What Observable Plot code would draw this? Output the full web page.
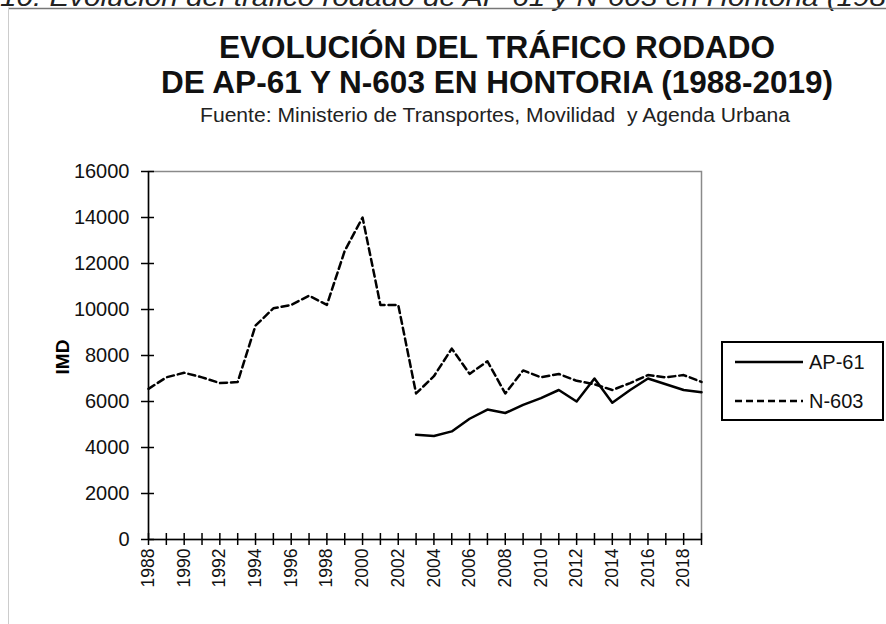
<!DOCTYPE html>
<html><head><meta charset="utf-8">
<script src="https://cdn.jsdelivr.net/npm/d3@7"></script>
<script src="https://cdn.jsdelivr.net/npm/@observablehq/plot@0.6"></script>
<style>
body{margin:0;background:#fff;}
#wrap{position:relative;width:886px;height:624px;overflow:hidden;font-family:Arial,"Liberation Sans",sans-serif;background:#fff;}
#deco{position:absolute;left:0;top:0;}
#chart{position:absolute;left:0;top:140px;}
</style></head><body>
<div id="wrap"><svg id="deco" width="886" height="624"></svg><div id="chart"></div></div>
<script>
const captionText = "10. Evolución del tráfico rodado de AP-61 y N-603 en Hontoria (1988-2019)";
const titleLines = ["EVOLUCIÓN DEL TRÁFICO RODADO", "DE AP-61 Y N-603 EN HONTORIA (1988-2019)"];
const sourceText = "Fuente: Ministerio de Transportes, Movilidad  y Agenda Urbana";
const yAxisLabel = "IMD";
const seriesNames = ["AP-61", "N-603"];
const years = [1988,1989,1990,1991,1992,1993,1994,1995,1996,1997,1998,1999,2000,2001,2002,2003,2004,2005,2006,2007,2008,2009,2010,2011,2012,2013,2014,2015,2016,2017,2018,2019];
const ap61Years = [2003,2004,2005,2006,2007,2008,2009,2010,2011,2012,2013,2014,2015,2016,2017,2018,2019];
const ap61 = [4550,4500,4700,5250,5650,5500,5850,6150,6500,6000,7000,5950,6500,7000,6750,6500,6400];
const n603 = [6550,7050,7250,7050,6800,6850,9300,10050,10200,10600,10200,12550,14000,10200,10200,6350,7100,8300,7200,7750,6350,7350,7050,7200,6900,6750,6500,6800,7150,7050,7150,6850];
const yTicks = [0,2000,4000,6000,8000,10000,12000,14000,16000];
const xLabelYears = [1988,1990,1992,1994,1996,1998,2000,2002,2004,2006,2008,2010,2012,2014,2016,2018];
const dashes = {"AP-61": null, "N-603": "7,4"};

const font = 'Arial, "Liberation Sans", sans-serif';
const rowsN = years.map((year, i) => ({year, value: n603[i]}));
const rowsA = ap61Years.map((year, i) => ({year, value: ap61[i]}));

const chart = Plot.plot({
  width: 886, height: 484,
  marginLeft: 148, marginRight: 185, marginTop: 31, marginBottom: 85,
  x: {type: "linear", domain: [years[0], years[years.length - 1]]},
  y: {domain: [yTicks[0], yTicks[yTicks.length - 1]]},
  style: {fontFamily: font, fontSize: "20px", color: "#000", background: "transparent", overflow: "visible"},
  marks: [
    Plot.frame({stroke: "#8a8a8a", strokeWidth: 1.5}),
    Plot.axisY({ticks: yTicks, tickSize: 13, dx: 6, fill: "none", label: null, strokeWidth: 1.5}),
    Plot.axisY({ticks: yTicks, tickSize: 0, tickPadding: 19, stroke: "none", label: null, fontSize: 20, fill: "#111", tickFormat: d => String(d)}),
    Plot.axisX({ticks: years, tickSize: 12, dy: -6, fill: "none", label: null, strokeWidth: 1.5}),
    Plot.axisX({ticks: xLabelYears, tickSize: 0, tickPadding: 9, tickRotate: -90, stroke: "none", label: null, fontSize: 17.5, fill: "#111", tickFormat: d => String(d)}),
    Plot.ruleX([years[0]], {stroke: "#000", strokeWidth: 1.5}),
    Plot.ruleY([yTicks[0]], {stroke: "#000", strokeWidth: 1.5}),
    Plot.line(rowsN, {x: "year", y: "value", stroke: "#000", strokeWidth: 2.5, strokeDasharray: dashes["N-603"]}),
    Plot.line(rowsA, {x: "year", y: "value", stroke: "#000", strokeWidth: 2.5})
  ]
});
document.getElementById("chart").appendChild(chart);

// Decorations: clipped caption, page frame, titles, axis title, legend
const deco = d3.select("#deco").attr("font-family", font);
deco.append("text").attr("x", 0).attr("y", 6).attr("font-size", 26).attr("font-style", "italic")
  .attr("fill", "#222").attr("textLength", 988).attr("lengthAdjust", "spacingAndGlyphs").text(captionText);
deco.append("line").attr("x1", 8).attr("x2", 886).attr("y1", 8.5).attr("y2", 8.5).attr("stroke", "#777").attr("stroke-width", 1.5);
deco.append("line").attr("x1", 8.5).attr("x2", 8.5).attr("y1", 8).attr("y2", 624).attr("stroke", "#ccc").attr("stroke-width", 1);

const titleY = [58, 92.5], titleLen = [556, 672];
titleLines.forEach((t, i) => {
  deco.append("text").attr("x", 497).attr("y", titleY[i]).attr("text-anchor", "middle")
    .attr("font-size", 30.5).attr("font-weight", "bold").attr("fill", "#111")
    .attr("textLength", titleLen[i]).attr("lengthAdjust", "spacingAndGlyphs").text(t);
});
deco.append("text").attr("x", 495).attr("y", 122).attr("text-anchor", "middle")
  .attr("font-size", 20).attr("fill", "#222").style("white-space", "pre")
  .attr("textLength", 590).attr("lengthAdjust", "spacingAndGlyphs").text(sourceText);

// y axis title
deco.append("text").attr("transform", "translate(62,357) rotate(-90)").attr("text-anchor", "middle")
  .attr("dy", "0.35em").attr("font-size", 19).attr("font-weight", "bold").attr("fill", "#000").text(yAxisLabel);

// Legend
const lg = deco.append("g");
lg.append("rect").attr("x", 722).attr("y", 342).attr("width", 161).attr("height", 78)
  .attr("fill", "#fff").attr("stroke", "#000").attr("stroke-width", 2);
seriesNames.forEach((name, i) => {
  const y = 362 + i * 39;
  lg.append("line").attr("x1", 735).attr("x2", 803).attr("y1", y).attr("y2", y)
    .attr("stroke", "#000").attr("stroke-width", 2.5).attr("stroke-dasharray", dashes[name]);
  lg.append("text").attr("x", 809).attr("y", y).attr("dy", "0.35em").attr("font-size", 20).attr("fill", "#111").text(name);
});
</script>
</body></html>
